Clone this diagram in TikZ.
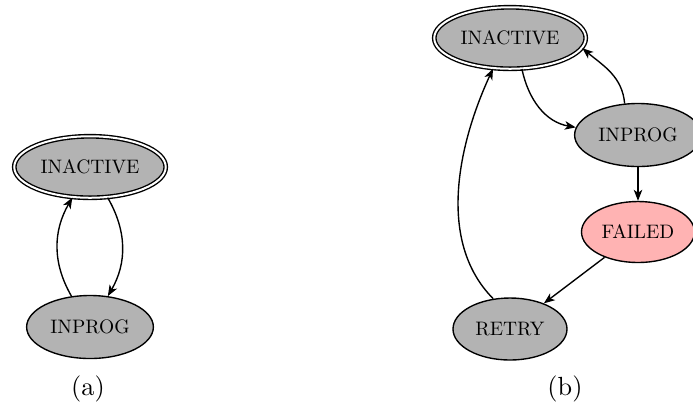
\documentclass[tikz,border=0pt]{standalone}
\usepackage{fontspec}
\usetikzlibrary{shapes.geometric,arrows.meta}
\newfontfamily\nodefont{lmroman10-regular}[Extension=.otf]
\definecolor{nodegray}{RGB}{179,179,179}
\definecolor{failpink}{RGB}{255,179,179}
\tikzset{
  state/.style={ellipse, draw=black, line width=0.55pt, fill=nodegray, inner sep=0pt,
    font=\nodefont\fontsize{7.8pt}{9pt}\selectfont},
  startstate/.style={state, double=white, double distance=0.8pt},
  edge/.style={line width=0.55pt, -{Stealth[length=4.4pt,width=3.4pt,inset=1.2pt]}},
  caption/.style={font=\nodefont\fontsize{10.5pt}{13pt}\selectfont, inner sep=0pt}
}
\begin{document}
\begin{tikzpicture}[x=0.4pt,y=-0.4pt]
\useasboundingbox (0,0) rectangle (693,403);
% (a)
\node[startstate, minimum width=60.6pt, minimum height=24.6pt] (ia) at (90,167) {INACTIVE};
\node[state, minimum width=50.7pt, minimum height=25.2pt] (pa) at (90,327) {INPROG};
\draw[edge] (pa.121) to[out=120,in=-120] (ia.240);
\draw[edge] (ia.300) to[out=-60,in=60] (pa.60);
\node[caption] (ca) at (88,389) {(a)};
% (b)
\node[startstate, minimum width=60.6pt, minimum height=24.6pt] (ib) at (510,38) {INACTIVE};
\node[state, minimum width=50.7pt, minimum height=25.2pt] (pb) at (638,135) {INPROG};
\node[state, fill=failpink, minimum width=45.2pt, minimum height=24.4pt] (fb) at (638,232) {FAILED};
\node[state, minimum width=45.6pt, minimum height=24.8pt] (rb) at (510,329) {RETRY};
\draw[edge] (ib.291) to[out=-78,in=170] (pb.173);
\draw[edge] (pb.113) to[out=95,in=-40] (ib.352);
\draw[edge] (pb.south) -- (fb.north);
\draw[edge] (fb) -- (rb);
\draw[edge] (rb.119) .. controls (435,240) and (460,140) .. (ib.241);
\node[caption] (cb) at (565,389) {(b)};
\end{tikzpicture}
\end{document}
